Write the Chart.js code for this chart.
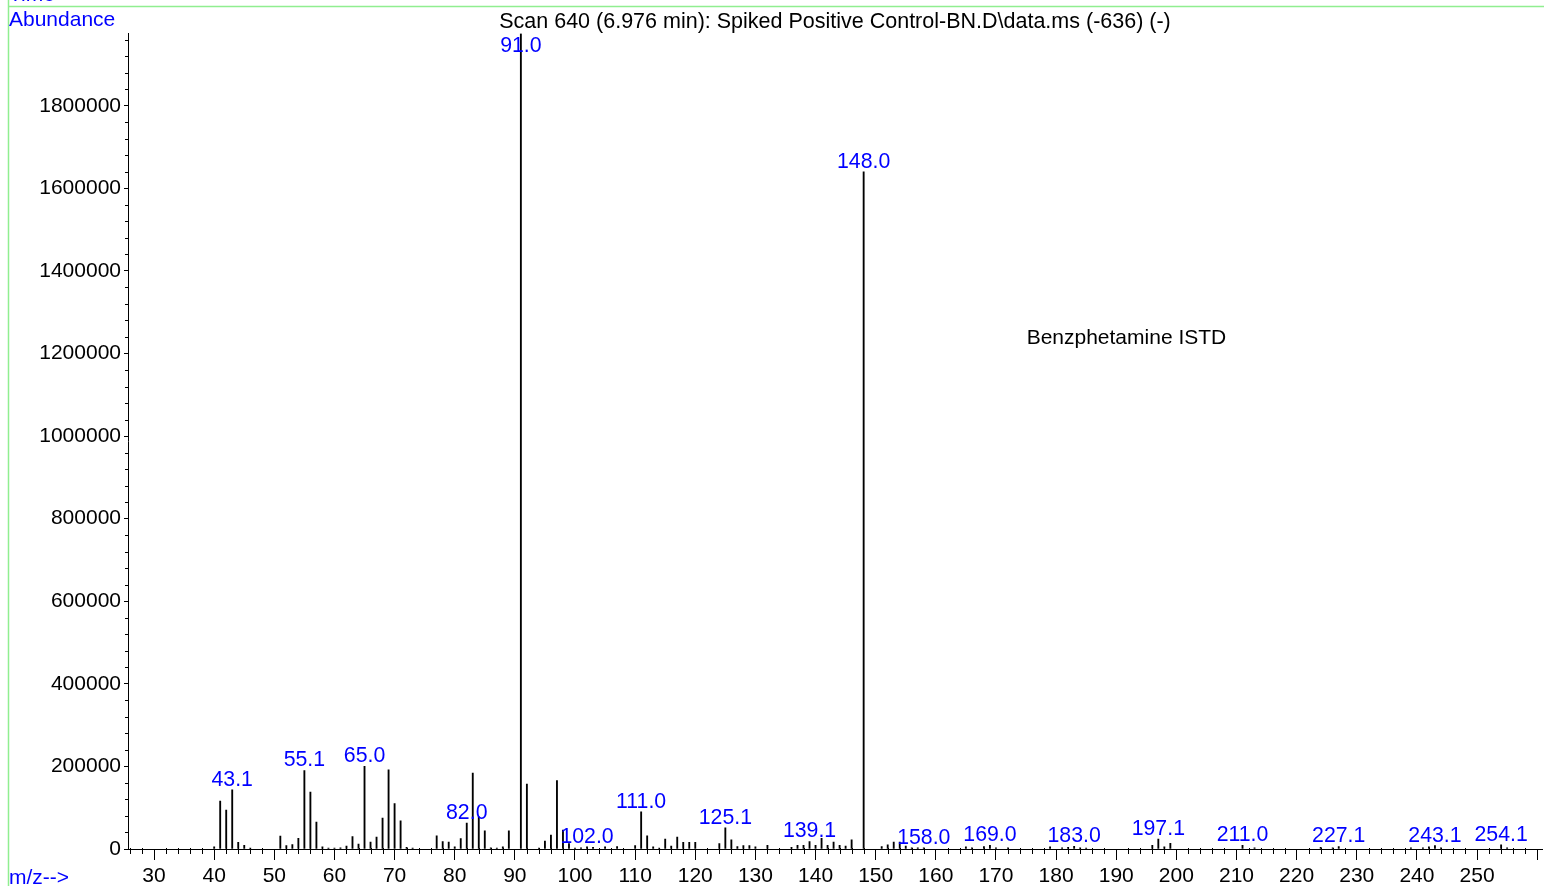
<!DOCTYPE html>
<html>
<head>
<meta charset="utf-8">
<script src="https://cdn.jsdelivr.net/npm/chart.js@4.4.1/dist/chart.umd.min.js"></script>
<style>
html,body{margin:0;padding:0;background:#fff;}
canvas{display:block;}
</style>
</head>
<body>
<canvas id="c" width="1544" height="886"></canvas>
<script>
// ---- data ----
const mz = [40,41,42,43,44,45,46,51,52,53,54,55,56,57,58,59,60,61,62,63,64,65,66,67,68,69,70,71,72,73,
  77,78,79,80,81,82,83,84,85,86,87,88,89,91,92,94,95,96,97,98,99,100,101,102,103,105,107,
  110,111,112,113,114,115,116,117,118,119,120,124,125,126,127,128,129,130,132,136,137,138,139,140,
  141,142,143,144,145,146,148,151,152,153,154,155,156,157,158,165,166,168,169,170,172,179,181,182,
  183,184,185,196,197,198,199,211,213,224,226,227,239,241,242,243,244,254,255];
const abundance = [5000,116000,94000,143000,16000,9000,2000,31000,8000,11000,26000,190000,138000,65000,5000,2000,2000,3000,7000,30000,12000,200000,17000,29000,75000,192000,110000,68000,4000,2000,
  32000,18000,17000,5000,25000,63000,184000,78000,44000,3000,2000,5000,44000,1975000,157000,2000,19000,34000,166000,46000,13000,2000,3000,5000,4000,5000,6000,
  8000,90000,32000,5000,2000,24000,7000,29000,16000,16000,16000,13000,51000,22000,6000,8000,8000,5000,9000,4000,9000,9000,18000,9000,
  26000,9000,17000,9000,7000,22000,1640000,6000,10000,17000,17000,7000,3000,3000,3000,5000,3000,6000,9000,3000,3000,5000,3000,4000,
  6500,3000,2000,9000,24000,5000,14000,9000,3000,4000,3000,6000,3000,3000,5000,8000,3000,10000,3000];
const peakLabelMz = [43,55,65,82,91,102,111,125,139,148,158,169,183,197,211,227,243,254];
const peakLabelText = ['43.1','55.1','65.0','82.0','91.0','102.0','111.0','125.1','139.1','148.0','158.0','169.0','183.0','197.1','211.0','227.1','243.1','254.1'];
const xTickValues = [30,40,50,60,70,80,90,100,110,120,130,140,150,160,170,180,190,200,210,220,230,240,250,260];
const xTickLabels = ['30','40','50','60','70','80','90','100','110','120','130','140','150','160','170','180','190','200','210','220','230','240','250',''];
const yTickValues = [0,200000,400000,600000,800000,1000000,1200000,1400000,1600000,1800000];
const yTickLabels = ['0','200000','400000','600000','800000','1000000','1200000','1400000','1600000','1800000'];
const titleText = 'Scan 640 (6.976 min): Spiked Positive Control-BN.D\\data.ms (-636) (-)';
const annotationText = 'Benzphetamine ISTD';
const annotationPos = [175.1, 1238000];
const xMin = 25.67, xMax = 260.8, xMajorStep = 10, xMinorStep = 2;
const yMin = 0, yMax = 1975000, yMajorStep = 200000, yMinorStep = 40000;

const FONT = "'Liberation Sans', Arial, Helvetica, sans-serif";
const BLUE = 'rgb(0,0,255)';
const GREEN = 'rgb(144,238,144)';

const decor = {
  id: 'decor',
  afterDatasetsDraw(chart) {
    const ctx = chart.ctx;
    const meta = chart.getDatasetMeta(0);
    ctx.save();
    ctx.font = '21.3px ' + FONT;
    ctx.fillStyle = BLUE;
    ctx.textAlign = 'center';
    ctx.textBaseline = 'middle';
    peakLabelMz.forEach((m, k) => {
      const i = mz.indexOf(m);
      const el = meta.data[i];
      if (!el) return;
      const y = Math.max(el.y - 10, 46);
      ctx.fillText(peakLabelText[k], el.x, y);
    });
    ctx.restore();
  },
  afterDraw(chart) {
    const ctx = chart.ctx;
    const xs = chart.scales.x, ys = chart.scales.y;
    const a = chart.chartArea;
    ctx.save();
    // minor ticks
    ctx.strokeStyle = '#000';
    ctx.lineWidth = 1;
    ctx.beginPath();
    for (let v = Math.ceil(xMin / xMinorStep) * xMinorStep; v <= xMax; v += xMinorStep) {
      if (v % xMajorStep === 0) continue;
      const px = Math.round(xs.getPixelForValue(v)) + 0.5;
      ctx.moveTo(px, a.bottom - 1);
      ctx.lineTo(px, a.bottom + 5);
    }
    for (let v = yMinorStep; v <= yMax; v += yMinorStep) {
      if (v % yMajorStep === 0) continue;
      const py = Math.round(ys.getPixelForValue(v)) + 0.5;
      ctx.moveTo(a.left - 3, py);
      ctx.lineTo(a.left, py);
    }
    ctx.stroke();
    // frame lines
    ctx.strokeStyle = GREEN;
    ctx.lineWidth = 1.5;
    ctx.beginPath();
    ctx.moveTo(8, 6.5); ctx.lineTo(chart.width, 6.5);
    ctx.moveTo(8.5, 0); ctx.lineTo(8.5, chart.height);
    ctx.stroke();
    // side texts
    ctx.font = '21px ' + FONT;
    ctx.fillStyle = BLUE;
    ctx.textAlign = 'left';
    ctx.textBaseline = 'alphabetic';
    ctx.fillText('Time-->', 9, 1);
    ctx.textBaseline = 'middle';
    ctx.fillText('Abundance', 9, 20);
    ctx.fillText('m/z-->', 9, 878);
    // annotation
    ctx.fillStyle = '#000';
    ctx.fillText(annotationText, xs.getPixelForValue(annotationPos[0]), ys.getPixelForValue(annotationPos[1]));
    ctx.restore();
  }
};

new Chart(document.getElementById('c'), {
  type: 'bar',
  data: {
    datasets: [{
      data: mz.map((x, i) => ({ x: x, y: abundance[i] })),
      backgroundColor: '#000',
      borderWidth: 0,
      barThickness: 1.2
    }]
  },
  options: {
    responsive: false,
    animation: false,
    devicePixelRatio: 1,
    layout: { padding: { left: 0, right: 2, top: 0, bottom: 0 } },
    plugins: {
      legend: { display: false },
      tooltip: { enabled: false },
      title: {
        display: true,
        fullSize: false,
        text: titleText,
        color: '#000',
        font: { family: FONT, size: 21.5, weight: 'normal', lineHeight: 1.0 },
        padding: { top: 11, bottom: 1 }
      }
    },
    scales: {
      x: {
        type: 'linear',
        min: xMin,
        max: xMax,
        offset: false,
        grid: { drawOnChartArea: false, drawTicks: true, tickLength: 11, color: '#000', tickColor: '#000', offset: false },
        border: { color: '#000', width: 1 },
        ticks: {
          autoSkip: false, maxRotation: 0, minRotation: 0,
          color: '#000', font: { family: FONT, size: 21 }, padding: 4,
          callback: (v, i) => xTickLabels[xTickValues.indexOf(v)] ?? ''
        },
        afterBuildTicks: s => { s.ticks = xTickValues.map(v => ({ value: v })); },
        afterFit: s => { s.height = 37; }
      },
      y: {
        min: yMin,
        max: yMax,
        grid: { drawOnChartArea: false, drawTicks: true, tickLength: 4, color: '#000', tickColor: '#000' },
        border: { color: '#000', width: 1 },
        ticks: {
          autoSkip: false, color: '#000',
          font: { family: FONT, size: 21 }, padding: 3,
          callback: v => yTickLabels[yTickValues.indexOf(v)] ?? ''
        },
        afterBuildTicks: s => { s.ticks = yTickValues.map(v => ({ value: v })); },
        afterFit: s => { s.width = 128; }
      }
    }
  },
  plugins: [decor]
});
</script>
</body>
</html>
